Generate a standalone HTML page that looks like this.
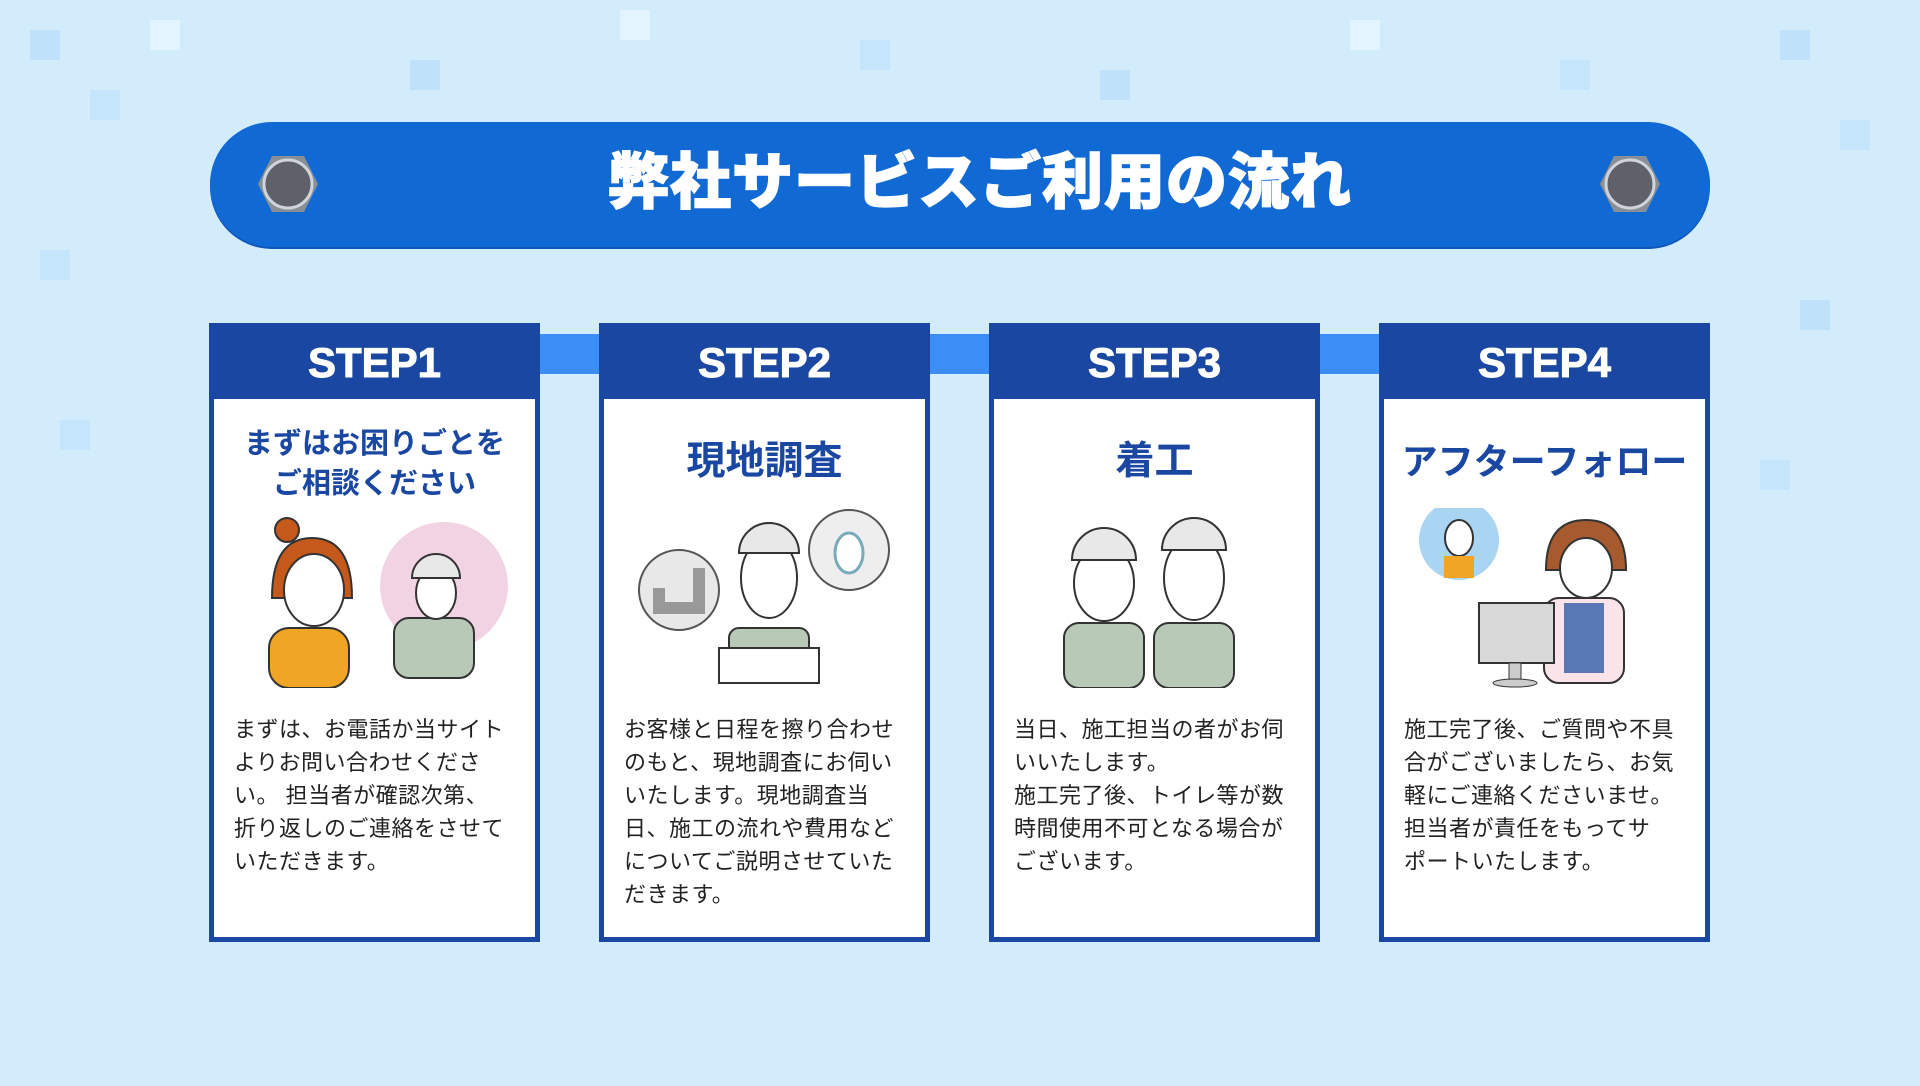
<!DOCTYPE html>
<html><head><meta charset="utf-8"><style>
*{margin:0;padding:0;box-sizing:border-box}
body{width:1920px;height:1086px;overflow:hidden;background:#d3ecfc;font-family:"Liberation Sans","Noto Sans CJK JP",sans-serif;position:relative}
.sq{position:absolute;width:30px;height:30px}
.banner{position:absolute;left:210px;top:122px;width:1500px;height:125px;border-radius:62px;background:#1169d3;box-shadow:0 2px 0 #0d58b8}
.banner h1{position:absolute;left:40px;right:0;top:22px;text-align:center;color:#fff;font-size:61px;font-weight:900;letter-spacing:1px;line-height:76px;-webkit-text-stroke:1.5px #fff}
.bolt{position:absolute;top:154px;width:62px;height:60px}
.bar{position:absolute;left:530px;top:334px;width:1060px;height:40px;background:#3a8ef5}
.card{position:absolute;top:323px;width:331px;height:619px;background:#fff;border:5px solid #1a47a1}
.hd{height:76px;margin:-5px -5px 0;background:#1a47a1;color:#fff;font-size:42px;font-weight:900;text-align:center;line-height:80px;-webkit-text-stroke:1px #fff}
.tt{position:absolute;left:0;right:0;text-align:center;color:#1a47a1;font-weight:700}
.ill{position:absolute;left:0;right:0;top:180px;height:180px}
.tx{position:absolute;left:20px;top:385px;font-size:22px;line-height:33px;color:#222;white-space:nowrap;letter-spacing:0.5px}
</style></head><body>
<div class="sq" style="left:30px;top:30px;background:#bfe2fa"></div>
<div class="sq" style="left:150px;top:20px;background:#e4f4fe"></div>
<div class="sq" style="left:90px;top:90px;background:#c4e5fb"></div>
<div class="sq" style="left:410px;top:60px;background:#bfe2fa"></div>
<div class="sq" style="left:620px;top:10px;background:#e4f4fe"></div>
<div class="sq" style="left:860px;top:40px;background:#c4e5fb"></div>
<div class="sq" style="left:1100px;top:70px;background:#bfe2fa"></div>
<div class="sq" style="left:1350px;top:20px;background:#e4f4fe"></div>
<div class="sq" style="left:1560px;top:60px;background:#c4e5fb"></div>
<div class="sq" style="left:1780px;top:30px;background:#bfe2fa"></div>
<div class="sq" style="left:1840px;top:120px;background:#c4e5fb"></div>
<div class="sq" style="left:40px;top:250px;background:#c4e5fb"></div>
<div class="sq" style="left:1800px;top:300px;background:#bfe2fa"></div>
<div class="sq" style="left:60px;top:420px;background:#c4e5fb"></div>
<div class="sq" style="left:1760px;top:460px;background:#c4e5fb"></div>
<div class="banner"><h1>弊社サービスご利用の流れ</h1></div>
<svg class="bolt" style="left:257px" viewBox="0 0 62 60"><polygon points="15,2 47,2 61,30 47,58 15,58 1,30" fill="#8a8f96"/><circle cx="31" cy="30" r="24" fill="#5e6268"/><circle cx="31" cy="30" r="24" fill="none" stroke="#d0d4da" stroke-width="3"/></svg>
<svg class="bolt" style="left:1599px" viewBox="0 0 62 60"><polygon points="15,2 47,2 61,30 47,58 15,58 1,30" fill="#8a8f96"/><circle cx="31" cy="30" r="24" fill="#5e6268"/><circle cx="31" cy="30" r="24" fill="none" stroke="#d0d4da" stroke-width="3"/></svg>
<div class="bar"></div>

<div class="card" style="left:209px"><div class="hd">STEP1</div>
<div class="tt" style="top:96px;font-size:29px;line-height:40px">まずはお困りごとを<br>ご相談ください</div>
<svg class="ill" viewBox="0 0 321 180"><circle cx="230" cy="78" r="64" fill="#f2d3e3"/><rect x="180" y="110" width="80" height="60" rx="15" fill="#b9c9b8" stroke="#333" stroke-width="2"/><ellipse cx="222" cy="85" rx="20" ry="26" fill="#fff" stroke="#333" stroke-width="2"/><path d="M198 70 a24 24 0 0 1 48 0z" fill="#e8e8e8" stroke="#333" stroke-width="2"/><rect x="55" y="120" width="80" height="60" rx="20" fill="#f0a624" stroke="#333" stroke-width="2"/><path d="M58 90 q0-60 40-60 q40 0 40 60z" fill="#c4591b" stroke="#333" stroke-width="2"/><circle cx="73" cy="22" r="12" fill="#c4591b" stroke="#333" stroke-width="2"/><ellipse cx="100" cy="82" rx="30" ry="36" fill="#fff" stroke="#333" stroke-width="2"/></svg>
<div class="tx">まずは、お電話か当サイト<br>よりお問い合わせくださ<br>い。 担当者が確認次第、<br>折り返しのご連絡をさせて<br>いただきます。</div></div>

<div class="card" style="left:599px"><div class="hd">STEP2</div>
<div class="tt" style="top:110px;font-size:39px;line-height:48px">現地調査</div>
<svg class="ill" viewBox="0 0 321 180"><circle cx="75" cy="82" r="40" fill="#e8e8e8" stroke="#555" stroke-width="2"/><path d="M55 80 v20 h40 v-40" fill="none" stroke="#999" stroke-width="12"/><circle cx="245" cy="42" r="40" fill="#eee" stroke="#555" stroke-width="2"/><ellipse cx="245" cy="45" rx="14" ry="20" fill="#fff" stroke="#7ab" stroke-width="3"/><rect x="125" y="120" width="80" height="55" rx="10" fill="#b9c9b8" stroke="#333" stroke-width="2"/><rect x="115" y="140" width="100" height="35" fill="#fff" stroke="#333" stroke-width="2"/><ellipse cx="165" cy="70" rx="28" ry="40" fill="#fff" stroke="#333" stroke-width="2"/><path d="M135 45 a30 30 0 0 1 60 0z" fill="#e8e8e8" stroke="#333" stroke-width="2"/></svg>
<div class="tx">お客様と日程を擦り合わせ<br>のもと、現地調査にお伺い<br>いたします。現地調査当<br>日、施工の流れや費用など<br>についてご説明させていた<br>だきます。</div></div>

<div class="card" style="left:989px"><div class="hd">STEP3</div>
<div class="tt" style="top:110px;font-size:39px;line-height:48px">着工</div>
<svg class="ill" viewBox="0 0 321 180"><rect x="70" y="115" width="80" height="65" rx="15" fill="#b9c9b8" stroke="#333" stroke-width="2"/><rect x="160" y="115" width="80" height="65" rx="15" fill="#b9c9b8" stroke="#333" stroke-width="2"/><ellipse cx="110" cy="75" rx="30" ry="38" fill="#fff" stroke="#333" stroke-width="2"/><ellipse cx="200" cy="70" rx="30" ry="42" fill="#fff" stroke="#333" stroke-width="2"/><path d="M78 52 a32 32 0 0 1 64 0z" fill="#e8e8e8" stroke="#333" stroke-width="2"/><path d="M168 42 a32 32 0 0 1 64 0z" fill="#e8e8e8" stroke="#333" stroke-width="2"/></svg>
<div class="tx">当日、施工担当の者がお伺<br>いいたします。<br>施工完了後、トイレ等が数<br>時間使用不可となる場合が<br>ございます。</div></div>

<div class="card" style="left:1379px"><div class="hd">STEP4</div>
<div class="tt" style="top:110px;font-size:36px;line-height:48px">アフターフォロー</div>
<svg class="ill" viewBox="0 0 321 180"><circle cx="75" cy="32" r="40" fill="#a9d5f2"/><ellipse cx="75" cy="30" rx="14" ry="18" fill="#fff" stroke="#333" stroke-width="2"/><rect x="60" y="48" width="30" height="22" fill="#f0a624"/><rect x="160" y="90" width="80" height="85" rx="15" fill="#fbe3ea" stroke="#333" stroke-width="2"/><rect x="180" y="95" width="40" height="70" fill="#5877b5"/><path d="M162 62 q0-50 40-50 q40 0 40 50z" fill="#a65a2e" stroke="#333" stroke-width="2"/><ellipse cx="202" cy="60" rx="26" ry="30" fill="#fff" stroke="#333" stroke-width="2"/><rect x="95" y="95" width="75" height="60" fill="#d8d8d8" stroke="#333" stroke-width="2"/><rect x="125" y="155" width="12" height="18" fill="#ccc" stroke="#333"/><ellipse cx="131" cy="175" rx="22" ry="4" fill="#ccc" stroke="#333"/></svg>
<div class="tx">施工完了後、ご質問や不具<br>合がございましたら、お気<br>軽にご連絡くださいませ。<br>担当者が責任をもってサ<br>ポートいたします。</div></div>
</body></html>
